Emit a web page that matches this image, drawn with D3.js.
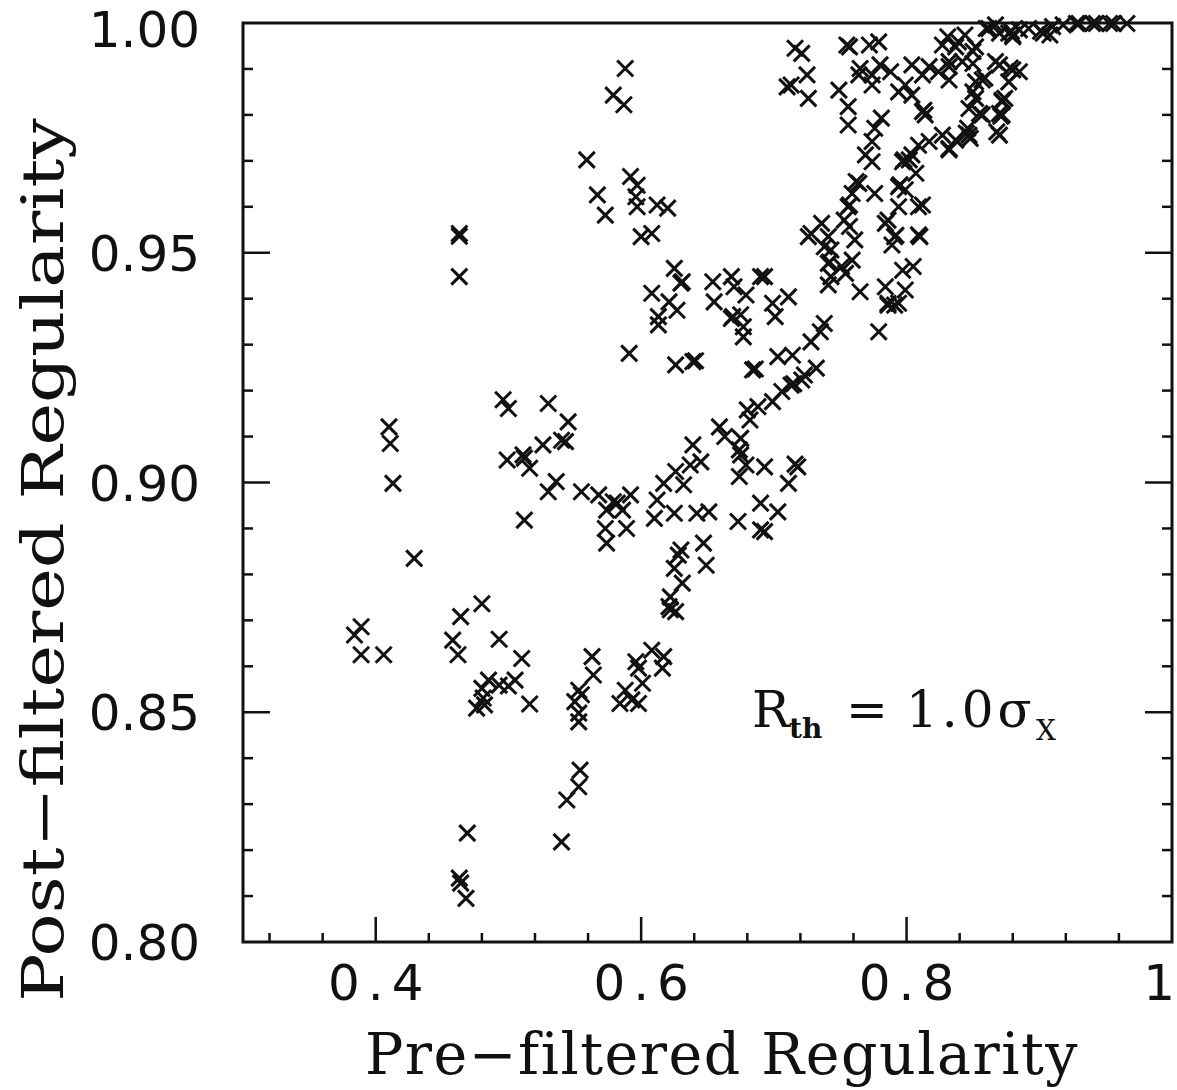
<!DOCTYPE html>
<html>
<head>
<meta charset="utf-8">
<script src="https://cdn.jsdelivr.net/npm/d3@7"></script>
<style>
  html, body { margin: 0; padding: 0; background: #fff; }
  svg { display: block; }
  .tick-label { font-family: "DejaVu Sans", sans-serif; font-size: 50px; fill: #111; }
  .axis-title { font-family: "DejaVu Serif", serif; font-size: 57px; fill: #111; }
  .note { font-family: "DejaVu Serif", serif; fill: #111; }
</style>
</head>
<body>
<svg id="chart" width="1177" height="1090"></svg>
<script>
// pre-filtered (x) vs post-filtered (y) regularity
const preFiltered = [
  0.384, 0.389, 0.389, 0.406, 0.410, 0.411, 0.413, 0.429, 0.463, 0.463, 0.463, 0.464, 0.480, 0.458, 0.462,
  0.493, 0.510, 0.485, 0.480, 0.476, 0.482, 0.481, 0.493, 0.500, 0.505, 0.516, 0.469, 0.463, 0.464, 0.468,
  0.563, 0.564, 0.553, 0.555, 0.550, 0.553, 0.553, 0.588, 0.584, 0.593, 0.598, 0.596, 0.598, 0.601, 0.608,
  0.617, 0.616, 0.622, 0.626, 0.621, 0.554, 0.553, 0.544, 0.540,
  0.496, 0.500, 0.530, 0.545, 0.526, 0.540, 0.543, 0.499, 0.511, 0.512, 0.516, 0.536, 0.530, 0.512, 0.555,
  0.568, 0.579, 0.582, 0.574, 0.586, 0.592, 0.573, 0.589, 0.574, 0.591,
  0.612, 0.617, 0.626, 0.632, 0.637, 0.645, 0.639, 0.610, 0.625, 0.642, 0.651, 0.647, 0.630, 0.628, 0.625,
  0.631, 0.622, 0.649, 0.659, 0.663, 0.675, 0.674, 0.675, 0.679, 0.674, 0.693, 0.673, 0.690, 0.703, 0.690,
  0.693, 0.718, 0.716, 0.711, 0.682, 0.680, 0.688, 0.699, 0.706, 0.713, 0.715, 0.723, 0.732, 0.721, 0.703,
  0.714, 0.728, 0.735, 0.738, 0.626, 0.639, 0.641, 0.684, 0.686, 0.779, 0.786, 0.791,
  0.625, 0.630, 0.631, 0.608, 0.621, 0.627, 0.613, 0.613, 0.654, 0.655, 0.668, 0.670, 0.679, 0.669, 0.677,
  0.677, 0.690, 0.693, 0.699, 0.701, 0.711, 0.675, 0.668,
  0.559, 0.592, 0.597, 0.596, 0.597, 0.567, 0.573, 0.612, 0.620, 0.600, 0.608, 0.588, 0.579, 0.587,
  0.716, 0.721, 0.755, 0.757, 0.772, 0.779, 0.713, 0.710, 0.725, 0.726, 0.749, 0.756, 0.756, 0.765, 0.764,
  0.774, 0.780, 0.788, 0.774, 0.781, 0.776, 0.774, 0.769, 0.774, 0.794, 0.799, 0.804, 0.812, 0.817, 0.804,
  0.812, 0.813, 0.814, 0.797, 0.798, 0.802, 0.804, 0.809, 0.817, 0.827, 0.832, 0.824, 0.832, 0.827, 0.839,
  0.844, 0.850, 0.842, 0.852, 0.852, 0.847, 0.847, 0.845, 0.848, 0.837, 0.832,
  0.862, 0.870, 0.877, 0.879, 0.880, 0.885, 0.892, 0.903, 0.901, 0.908, 0.910, 0.918, 0.928, 0.930, 0.940,
  0.953, 0.966, 0.956, 0.943, 0.880, 0.878, 0.885, 0.872, 0.874, 0.872, 0.871, 0.870, 0.868, 0.870, 0.857,
  0.859, 0.855, 0.850, 0.837, 0.831, 0.832, 0.832, 0.852, 0.867, 0.870, 0.877, 0.872, 0.850, 0.857, 0.846,
  0.860, 0.867, 0.880,
  0.764, 0.762, 0.759, 0.756, 0.757, 0.776, 0.794, 0.795, 0.799, 0.794, 0.809, 0.784, 0.791, 0.792, 0.809,
  0.810, 0.789, 0.807, 0.736, 0.726, 0.741, 0.757, 0.761, 0.743, 0.741, 0.742, 0.751, 0.743, 0.754, 0.741,
  0.765, 0.784, 0.786, 0.794, 0.799, 0.797, 0.805, 0.786, 0.812, 0.728, 0.738, 0.759, 0.753
];
const postFiltered = [
  0.8668, 0.8686, 0.8625, 0.8625, 0.9121, 0.9085, 0.8998, 0.8835, 0.9542, 0.9536, 0.9448, 0.8708, 0.8736, 0.8657, 0.8625,
  0.8659, 0.8617, 0.8570, 0.8552, 0.8509, 0.8516, 0.8531, 0.8559, 0.8557, 0.8570, 0.8518, 0.8237, 0.8139, 0.8128, 0.8095,
  0.8621, 0.8581, 0.8548, 0.8538, 0.8523, 0.8498, 0.8479, 0.8548, 0.8519, 0.8527, 0.8519, 0.8610, 0.8596, 0.8563, 0.8635,
  0.8621, 0.8596, 0.8723, 0.8719, 0.8730, 0.8374, 0.8338, 0.8309, 0.8218,
  0.9180, 0.9161, 0.9172, 0.9132, 0.9082, 0.9092, 0.9089, 0.9049, 0.9060, 0.9053, 0.9031, 0.9002, 0.8980, 0.8918, 0.8980,
  0.8973, 0.8958, 0.8955, 0.8940, 0.8940, 0.8973, 0.8900, 0.8900, 0.8868, 0.9281,
  0.8962, 0.8998, 0.9024, 0.8995, 0.9038, 0.9045, 0.9082, 0.8922, 0.8933, 0.8933, 0.8936, 0.8868, 0.8853, 0.8842, 0.8813,
  0.8781, 0.8751, 0.8820, 0.9121, 0.9100, 0.9096, 0.9071, 0.9060, 0.9038, 0.9013, 0.9034, 0.8915, 0.8955, 0.8936, 0.8897,
  0.8893, 0.9034, 0.9040, 0.8998, 0.9136, 0.9158, 0.9165, 0.9176, 0.9198, 0.9212, 0.9215, 0.9234, 0.9249, 0.9223, 0.9274,
  0.9277, 0.9306, 0.9328, 0.9346, 0.9256, 0.9263, 0.9265, 0.9245, 0.9247, 0.9328, 0.9386, 0.9386,
  0.9466, 0.9434, 0.9437, 0.9412, 0.9393, 0.9375, 0.9361, 0.9343, 0.9437, 0.9393, 0.9448, 0.9426, 0.9408, 0.9361, 0.9339,
  0.9317, 0.9448, 0.9448, 0.9390, 0.9361, 0.9404, 0.9365, 0.9357,
  0.9702, 0.9666, 0.9647, 0.9622, 0.9600, 0.9626, 0.9582, 0.9604, 0.9597, 0.9535, 0.9542, 0.9901, 0.9843, 0.9822,
  0.9945, 0.9934, 0.9952, 0.9948, 0.9952, 0.9959, 0.9865, 0.9861, 0.9887, 0.9836, 0.9854, 0.9818, 0.9778, 0.9901, 0.9887,
  0.9887, 0.9909, 0.9894, 0.9865, 0.9793, 0.9771, 0.9742, 0.9713, 0.9698, 0.9850, 0.9865, 0.9909, 0.9887, 0.9905, 0.9843,
  0.9807, 0.9810, 0.9800, 0.9698, 0.9702, 0.9702, 0.9713, 0.9734, 0.9742, 0.9756, 0.9727, 0.9894, 0.9916, 0.9952, 0.9959,
  0.9974, 0.9938, 0.9916, 0.9872, 0.9836, 0.9814, 0.9756, 0.9760, 0.9749, 0.9745, 0.9724,
  0.9988, 0.9978, 0.9978, 0.9982, 0.9970, 0.9985, 0.9988, 0.9978, 0.9982, 0.9974, 0.9992, 0.9996, 0.9999, 0.9999, 0.9999,
  0.9999, 0.9999, 0.9999, 0.9999, 0.9898, 0.9902, 0.9894, 0.9832, 0.9836, 0.9800, 0.9797, 0.9803, 0.9763, 0.9756, 0.9876,
  0.9880, 0.9803, 0.9912, 0.9948, 0.9970, 0.9905, 0.9876, 0.9948, 0.9916, 0.9909, 0.9872, 0.9829, 0.9850, 0.9800, 0.9771,
  0.9988, 0.9996, 0.9974,
  0.9651, 0.9655, 0.9629, 0.9600, 0.9604, 0.9629, 0.9644, 0.9648, 0.9637, 0.9600, 0.9600, 0.9564, 0.9535, 0.9538, 0.9539,
  0.9535, 0.9517, 0.9673, 0.9564, 0.9535, 0.9535, 0.9557, 0.9528, 0.9506, 0.9477, 0.9480, 0.9470, 0.9448, 0.9455, 0.9430,
  0.9415, 0.9426, 0.9390, 0.9390, 0.9419, 0.9462, 0.9470, 0.9571, 0.9604, 0.9542, 0.9513, 0.9484, 0.9571
];

const xMajorTicks = [0.4, 0.6, 0.8, 1.0];
const xTickLabels = ["0.4", "0.6", "0.8", "1"];
const xMinorTicks = [0.32, 0.36, 0.44, 0.48, 0.52, 0.56, 0.64, 0.68, 0.72, 0.76, 0.84, 0.88, 0.92, 0.96];
const yMajorTicks = [0.80, 0.85, 0.90, 0.95, 1.00];
const yTickLabels = ["0.80", "0.85", "0.90", "0.95", "1.00"];
const yMinorTicks = [0.81, 0.82, 0.83, 0.84, 0.86, 0.87, 0.88, 0.89, 0.91, 0.92, 0.93, 0.94, 0.96, 0.97, 0.98, 0.99];

const plot = { left: 243, right: 1172, top: 23, bottom: 942 };

const svg = d3.select("#chart");
const x = d3.scaleLinear().domain([0.3, 1.0]).range([plot.left, plot.right]);
const y = d3.scaleLinear().domain([0.8, 1.0]).range([plot.bottom, plot.top]);

// frame
svg.append("rect")
  .attr("x", plot.left).attr("y", plot.top)
  .attr("width", plot.right - plot.left).attr("height", plot.bottom - plot.top)
  .attr("fill", "none").attr("stroke", "#111").attr("stroke-width", 3);

// bottom ticks (pointing up)
const bottom = svg.append("g").attr("stroke", "#111").attr("stroke-width", 2.5);
bottom.selectAll("line.maj").data(xMajorTicks.slice(0, 3)).enter().append("line")
  .attr("x1", (d) => x(d)).attr("x2", (d) => x(d))
  .attr("y1", plot.bottom).attr("y2", plot.bottom - 25);
bottom.selectAll("line.min").data(xMinorTicks).enter().append("line")
  .attr("x1", (d) => x(d)).attr("x2", (d) => x(d))
  .attr("y1", plot.bottom).attr("y2", plot.bottom - 9);

// left and right ticks (pointing inward)
const side = svg.append("g").attr("stroke", "#111").attr("stroke-width", 2.5);
[[plot.left, 1], [plot.right, -1]].forEach(([x0, dir]) => {
  side.append("g").selectAll("line").data(yMajorTicks.slice(1, 4)).enter().append("line")
    .attr("x1", x0).attr("x2", x0 + dir * 27)
    .attr("y1", (d) => y(d)).attr("y2", (d) => y(d));
  side.append("g").selectAll("line").data(yMinorTicks).enter().append("line")
    .attr("x1", x0).attr("x2", x0 + dir * 10)
    .attr("y1", (d) => y(d)).attr("y2", (d) => y(d));
});

// tick labels (last x label sits against the right edge, like the scan)
const lastX = xMajorTicks.length - 1;
svg.append("g").selectAll("text").data(xMajorTicks).enter().append("text")
  .attr("class", "tick-label")
  .attr("x", (d, i) => (i === lastX ? x(d) + 3 : x(d) + 4))
  .attr("y", 1000)
  .attr("letter-spacing", (d, i) => (i === lastX ? 0 : 8))
  .attr("text-anchor", (d, i) => (i === lastX ? "end" : "middle"))
  .text((d, i) => xTickLabels[i]);

// top label nudged down a little so it is not clipped by the page edge
svg.append("g").selectAll("text").data(yMajorTicks).enter().append("text")
  .attr("class", "tick-label")
  .attr("x", 200).attr("y", (d) => y(d) + (d === 1.0 ? 24 : 18))
  .attr("text-anchor", "end")
  .text((d, i) => yTickLabels[i]);

// axis titles
svg.append("text").attr("class", "axis-title")
  .attr("x", 722).attr("y", 1074).attr("text-anchor", "middle")
  .attr("letter-spacing", 1.5)
  .text("Pre\u2212filtered Regularity");

svg.append("text").attr("class", "axis-title")
  .attr("transform", "translate(63,560) rotate(-90) scale(1.26,1)")
  .attr("text-anchor", "middle")
  .text("Post\u2212filtered Regularity");

// markers
const pts = preFiltered.map((v, i) => [v, postFiltered[i]]);
const s = 8;
svg.append("g").attr("stroke", "#111").attr("stroke-width", 3).attr("fill", "none")
  .selectAll("path").data(pts).enter().append("path")
  .attr("d", (d) => {
    const cx = x(d[0]), cy = y(d[1]);
    return `M${cx - s},${cy - s}L${cx + s},${cy + s}M${cx - s},${cy + s}L${cx + s},${cy - s}`;
  });

// annotation
const note = svg.append("text").attr("class", "note").attr("y", 727);
note.append("tspan").attr("x", 752).attr("font-size", 50).text("R");
note.append("tspan").attr("x", 789).attr("y", 738).attr("font-size", 28).attr("font-weight", "bold").text("th");
note.append("tspan").attr("x", 846).attr("y", 727).attr("font-size", 50).text("=");
note.append("tspan").attr("x", 906).attr("font-size", 50).attr("letter-spacing", 4).text("1.0\u03c3");
note.append("tspan").attr("x", 1036).attr("y", 740).attr("font-size", 28).text("X");
</script>
</body>
</html>
